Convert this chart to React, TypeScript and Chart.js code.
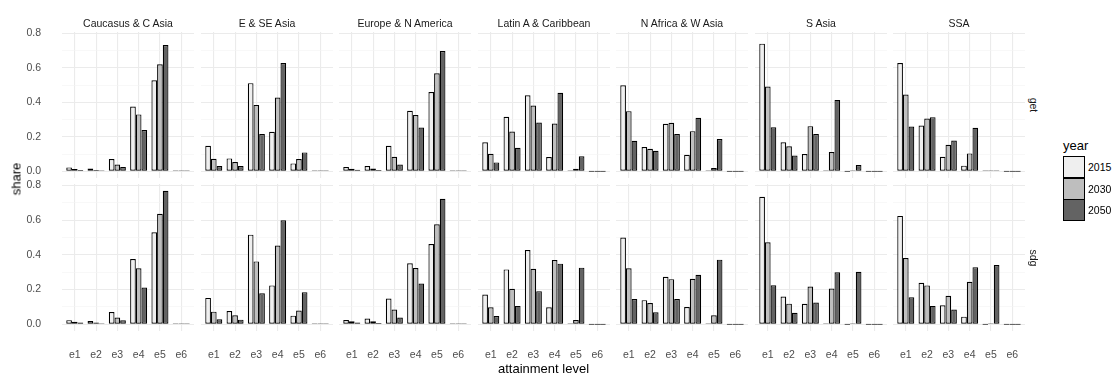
import React, { useEffect, useRef } from "react";
import { Chart, registerables } from "chart.js";

Chart.register(...registerables);

const categories = ["e1", "e2", "e3", "e4", "e5", "e6"];
const years = ["2015", "2030", "2050"];
const regions = [
  "Caucasus & C Asia",
  "E & SE Asia",
  "Europe & N America",
  "Latin A & Caribbean",
  "N Africa & W Asia",
  "S Asia",
  "SSA",
];
const rowLabels = ["get", "sdg"];
const yTicks = [0, 0.1, 0.2, 0.3, 0.4, 0.5, 0.6, 0.7, 0.8];
const fills = ["#EFEFEF", "#BEBEBE", "#636363"];

// row "get": [2015, 2030, 2050] per region, values for e1..e6
const getCaucasus = [
  [0.023, 0.017, 0.071, 0.376, 0.528, 0.001],
  [0.013, 0.008, 0.04, 0.33, 0.62, 0.001],
  [0.008, 0.004, 0.025, 0.239, 0.732, 0.001],
];
const getESEAsia = [
  [0.148, 0.075, 0.511, 0.229, 0.046, 0.001],
  [0.073, 0.054, 0.385, 0.428, 0.071, 0.001],
  [0.031, 0.031, 0.216, 0.628, 0.11, 0.002],
];
const getEurope = [
  [0.025, 0.031, 0.148, 0.351, 0.46, 0.001],
  [0.015, 0.017, 0.085, 0.326, 0.568, 0.001],
  [0.01, 0.008, 0.04, 0.254, 0.697, 0.002],
];
const getLatin = [
  [0.168, 0.316, 0.441, 0.083, 0.006, 0],
  [0.102, 0.231, 0.381, 0.277, 0.015, 0],
  [0.052, 0.137, 0.283, 0.455, 0.087, 0],
];
const getNAfrica = [
  [0.499, 0.141, 0.276, 0.096, 0.002, 0],
  [0.349, 0.131, 0.281, 0.233, 0.019, 0],
  [0.177, 0.119, 0.216, 0.31, 0.187, 0],
];
const getSAsia = [
  [0.74, 0.168, 0.1, 0.001, 0, 0],
  [0.491, 0.145, 0.262, 0.112, 0.001, 0],
  [0.256, 0.092, 0.216, 0.414, 0.037, 0],
];
const getSSA = [
  [0.628, 0.266, 0.085, 0.033, 0.001, 0],
  [0.445, 0.306, 0.154, 0.104, 0.002, 0],
  [0.26, 0.314, 0.179, 0.252, 0.006, 0],
];

// row "sdg"
const sdgCaucasus = [
  [0.024, 0.019, 0.071, 0.376, 0.53, 0.001],
  [0.015, 0.01, 0.039, 0.322, 0.636, 0.001],
  [0.01, 0.006, 0.023, 0.212, 0.769, 0.001],
];
const sdgESEAsia = [
  [0.152, 0.077, 0.516, 0.224, 0.05, 0.001],
  [0.073, 0.052, 0.362, 0.453, 0.079, 0.001],
  [0.029, 0.027, 0.179, 0.599, 0.185, 0.002],
];
const sdgEurope = [
  [0.025, 0.033, 0.148, 0.351, 0.462, 0.001],
  [0.017, 0.017, 0.085, 0.324, 0.576, 0.001],
  [0.01, 0.008, 0.039, 0.235, 0.723, 0.002],
];
const sdgLatin = [
  [0.171, 0.316, 0.428, 0.098, 0.006, 0],
  [0.098, 0.204, 0.32, 0.37, 0.025, 0],
  [0.048, 0.106, 0.191, 0.349, 0.326, 0],
];
const sdgNAfrica = [
  [0.499, 0.139, 0.274, 0.1, 0.001, 0],
  [0.322, 0.123, 0.26, 0.262, 0.052, 0],
  [0.146, 0.069, 0.146, 0.285, 0.372, 0],
];
const sdgSAsia = [
  [0.734, 0.16, 0.118, 0.001, 0, 0],
  [0.472, 0.119, 0.218, 0.206, 0.001, 0],
  [0.225, 0.066, 0.125, 0.299, 0.302, 0],
];
const sdgSSA = [
  [0.624, 0.239, 0.11, 0.044, 0, 0],
  [0.382, 0.224, 0.164, 0.245, 0.001, 0],
  [0.156, 0.106, 0.085, 0.329, 0.341, 0],
];

const panelData = [
  [getCaucasus, getESEAsia, getEurope, getLatin, getNAfrica, getSAsia, getSSA],
  [sdgCaucasus, sdgESEAsia, sdgEurope, sdgLatin, sdgNAfrica, sdgSAsia, sdgSSA],
];

// layout
const FONT = "'Liberation Sans', Arial, Helvetica, sans-serif";
const PANEL_LEFT0 = 62;
const PANEL_PITCH = 138.5;
const PANEL_W = 132;
const PANEL_TOPS = [32, 184];
const PANEL_HS = [146, 147];
const Y_AXIS_W = 62;
const X_AXIS_H = 40;
const TOP_PAD = 8;
const Y_MIN = -0.03845;
const Y_MAX = 0.80745;
const MAJOR = "#EBEBEB";
const MINOR = "#F4F4F4";

function panelLeft(col: number) {
  return Math.round(PANEL_LEFT0 + PANEL_PITCH * col);
}

function Panel({ row, col }: { row: number; col: number }) {
  const ref = useRef<HTMLCanvasElement>(null);
  const showY = col === 0;
  const showX = row === 1;
  const padTop = showY ? TOP_PAD : 0;
  const left = panelLeft(col) - (showY ? Y_AXIS_W : 0);
  const top = PANEL_TOPS[row] - padTop;
  const width = PANEL_W + (showY ? Y_AXIS_W : 0);
  const height = PANEL_HS[row] + (showX ? X_AXIS_H : 0) + padTop;
  const values = panelData[row][col];

  useEffect(() => {
    if (!ref.current) return;
    const chart = new Chart(ref.current, {
      type: "bar",
      data: {
        datasets: years.map((y, k) => ({
          label: y,
          data: values[k].map((v: number, i: number) => ({ x: i + 1, y: v })),
          backgroundColor: fills[k],
          borderColor: "#000000",
          borderWidth: 1.2,
          borderSkipped: false,
          minBarLength: 1,
          categoryPercentage: 0.8,
          barPercentage: 1,
        })),
      },
      options: {
        animation: false,
        responsive: false,
        maintainAspectRatio: false,
        devicePixelRatio: 1,
        layout: { padding: { top: padTop, left: 0, right: 0, bottom: 0 } },
        plugins: { legend: { display: false }, tooltip: { enabled: false } },
        scales: {
          x: {
            type: "linear",
            min: 0.4,
            max: 6.6,
            offset: false,
            afterBuildTicks: (s: any) => {
              s.ticks = categories.map((_, i) => ({ value: i + 1 }));
            },
            afterFit: (s: any) => {
              s.height = showX ? X_AXIS_H : 0;
              s.paddingLeft = 0;
              s.paddingRight = 0;
              s.paddingTop = 0;
              s.paddingBottom = 0;
            },
            grid: { color: MAJOR, lineWidth: 1.1, drawTicks: false, offset: false },
            border: { display: false },
            ticks: {
              display: showX,
              autoSkip: false,
              maxRotation: 0,
              minRotation: 0,
              padding: 18,
              color: "#4D4D4D",
              font: { family: FONT, size: 10.5 },
              callback: (v: any) => categories[Math.round(Number(v)) - 1] ?? "",
            },
          },
          y: {
            type: "linear",
            min: Y_MIN,
            max: Y_MAX,
            afterBuildTicks: (s: any) => {
              s.ticks = yTicks.map((v) => ({ value: v }));
            },
            afterFit: (s: any) => {
              s.width = showY ? Y_AXIS_W : 0;
              s.paddingLeft = 0;
              s.paddingRight = 0;
              s.paddingTop = 0;
              s.paddingBottom = 0;
            },
            grid: {
              color: (ctx: any) => (ctx.index % 2 === 0 ? MAJOR : MINOR),
              lineWidth: (ctx: any) => (ctx.index % 2 === 0 ? 1.1 : 0.6),
              drawTicks: false,
            },
            border: { display: false },
            ticks: {
              display: showY,
              padding: 21,
              color: "#4D4D4D",
              font: { family: FONT, size: 10.5 },
              callback: (v: any, i: number) => (i % 2 === 0 ? Number(v).toFixed(1) : ""),
            },
          },
        },
      } as any,
    });
    return () => chart.destroy();
  }, []);

  return (
    <canvas
      ref={ref}
      width={width}
      height={height}
      style={{ position: "absolute", left, top, width, height }}
    />
  );
}

const textBase: React.CSSProperties = {
  position: "absolute",
  whiteSpace: "nowrap",
  fontFamily: FONT,
  lineHeight: 1,
};

export default function App() {
  return (
    <div
      style={{
        position: "absolute",
        left: 0,
        top: 0,
        width: 1113,
        height: 374,
        background: "#ffffff",
        overflow: "hidden",
        fontFamily: FONT,
      }}
    >
      {[0, 1].map((row) =>
        regions.map((_, col) => <Panel key={`${row}-${col}`} row={row} col={col} />)
      )}
      {regions.map((name, col) => (
        <div
          key={name}
          style={{
            ...textBase,
            left: panelLeft(col) + PANEL_W / 2,
            top: 23,
            transform: "translate(-50%, -50%)",
            fontSize: 10.5,
            color: "#1A1A1A",
          }}
        >
          {name}
        </div>
      ))}
      {rowLabels.map((lab, row) => (
        <div
          key={lab}
          style={{
            ...textBase,
            left: 1034,
            top: PANEL_TOPS[row] + PANEL_HS[row] / 2,
            transform: "translate(-50%, -50%) rotate(90deg)",
            fontSize: 10.5,
            color: "#1A1A1A",
          }}
        >
          {lab}
        </div>
      ))}
      <div
        style={{
          ...textBase,
          left: 16,
          top: 179,
          transform: "translate(-50%, -50%) rotate(-90deg)",
          fontSize: 13,
          color: "#000000",
        }}
      >
        share
      </div>
      <div
        style={{
          ...textBase,
          left: 543.5,
          top: 368,
          transform: "translate(-50%, -50%)",
          fontSize: 13,
          color: "#000000",
        }}
      >
        attainment level
      </div>
      <div
        style={{
          ...textBase,
          left: 1063,
          top: 145,
          transform: "translateY(-50%)",
          fontSize: 13,
          color: "#000000",
        }}
      >
        year
      </div>
      {years.map((y, k) => (
        <React.Fragment key={y}>
          <div
            style={{
              position: "absolute",
              left: 1063,
              top: 156 + k * 21.5,
              width: 22,
              height: 22,
              boxSizing: "border-box",
              border: "1px solid #000000",
              background: fills[k],
            }}
          />
          <div
            style={{
              ...textBase,
              left: 1088,
              top: 167 + k * 21.5,
              transform: "translateY(-50%)",
              fontSize: 10.5,
              color: "#000000",
            }}
          >
            {y}
          </div>
        </React.Fragment>
      ))}
    </div>
  );
}
